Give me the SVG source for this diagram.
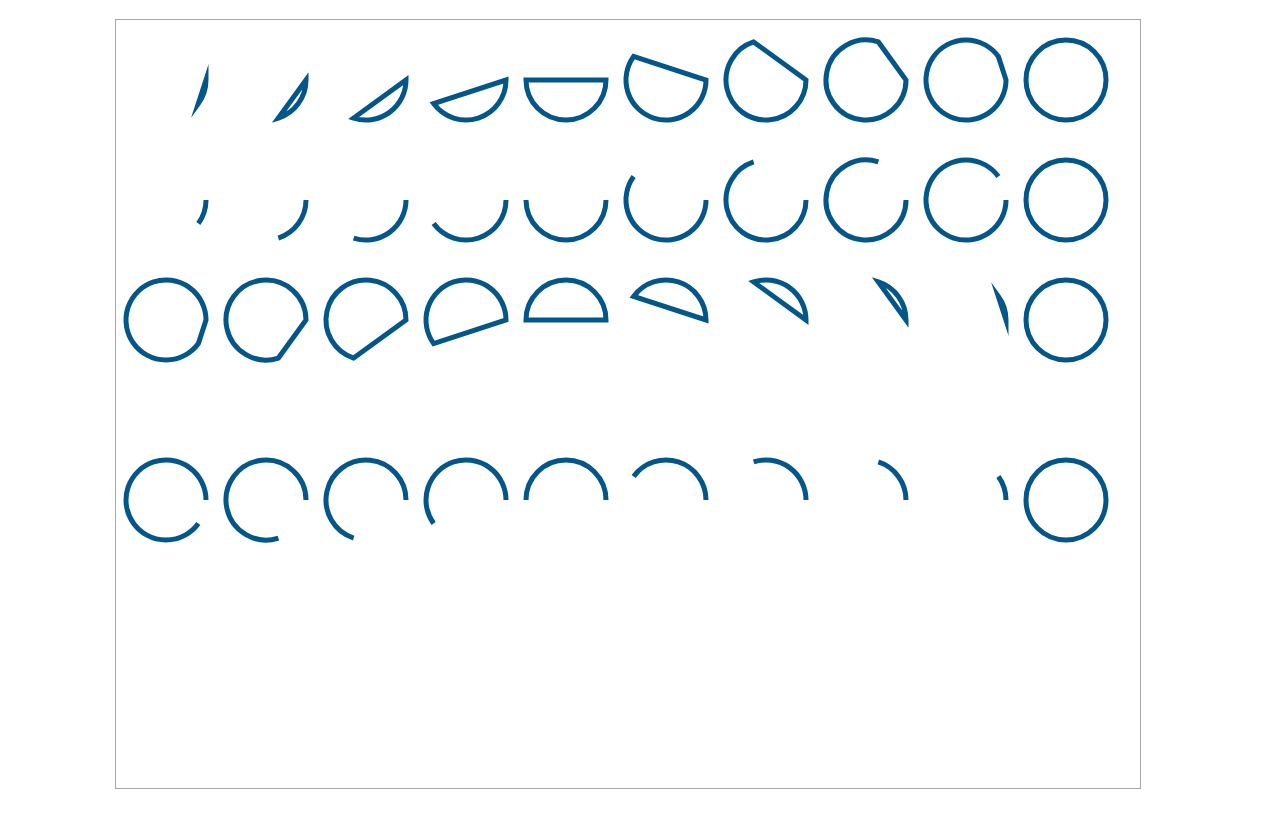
<svg xmlns="http://www.w3.org/2000/svg" width="1282" height="835" viewBox="0 0 1282 835">
<style>
.a{fill:none;stroke:#02568a;stroke-width:5;stroke-miterlimit:10}
.frame{fill:none;stroke:#aaaaaa;stroke-width:1}
</style>
<rect x="0" y="0" width="1282" height="835" fill="#ffffff"/>
<rect class="frame" x="115.5" y="19.5" width="1025" height="769"/>
<g id="row1">
<g id="r1c1" transform="translate(166,80)"><path class="a" d="M40,0A40,40 0 0 1 32.361,23.511Z"/></g>
<g id="r1c2" transform="translate(266,80)"><path class="a" d="M40,0A40,40 0 0 1 12.361,38.042Z"/></g>
<g id="r1c3" transform="translate(366,80)"><path class="a" d="M40,0A40,40 0 0 1 -12.361,38.042Z"/></g>
<g id="r1c4" transform="translate(466,80)"><path class="a" d="M40,0A40,40 0 0 1 -32.361,23.511Z"/></g>
<g id="r1c5" transform="translate(566,80)"><path class="a" d="M40,0A40,40 0 0 1 -40,0Z"/></g>
<g id="r1c6" transform="translate(666,80)"><path class="a" d="M40,0A40,40 0 1 1 -32.361,-23.511Z"/></g>
<g id="r1c7" transform="translate(766,80)"><path class="a" d="M40,0A40,40 0 1 1 -12.361,-38.042Z"/></g>
<g id="r1c8" transform="translate(866,80)"><path class="a" d="M40,0A40,40 0 1 1 12.361,-38.042Z"/></g>
<g id="r1c9" transform="translate(966,80)"><path class="a" d="M40,0A40,40 0 1 1 32.361,-23.511Z"/></g>
<g id="r1c10" transform="translate(1066,80)"><circle class="a" r="40"/></g>
</g>
<g id="row2">
<g id="r2c1" transform="translate(166,200)"><path class="a" d="M40,0A40,40 0 0 1 32.361,23.511"/></g>
<g id="r2c2" transform="translate(266,200)"><path class="a" d="M40,0A40,40 0 0 1 12.361,38.042"/></g>
<g id="r2c3" transform="translate(366,200)"><path class="a" d="M40,0A40,40 0 0 1 -12.361,38.042"/></g>
<g id="r2c4" transform="translate(466,200)"><path class="a" d="M40,0A40,40 0 0 1 -32.361,23.511"/></g>
<g id="r2c5" transform="translate(566,200)"><path class="a" d="M40,0A40,40 0 0 1 -40,0"/></g>
<g id="r2c6" transform="translate(666,200)"><path class="a" d="M40,0A40,40 0 1 1 -32.361,-23.511"/></g>
<g id="r2c7" transform="translate(766,200)"><path class="a" d="M40,0A40,40 0 1 1 -12.361,-38.042"/></g>
<g id="r2c8" transform="translate(866,200)"><path class="a" d="M40,0A40,40 0 1 1 12.361,-38.042"/></g>
<g id="r2c9" transform="translate(966,200)"><path class="a" d="M40,0A40,40 0 1 1 32.361,-23.511"/></g>
<g id="r2c10" transform="translate(1066,200)"><circle class="a" r="40"/></g>
</g>
<g id="row3">
<g id="r3c1" transform="translate(166,320)"><path class="a" d="M32.361,23.511A40,40 0 1 1 40,0Z"/></g>
<g id="r3c2" transform="translate(266,320)"><path class="a" d="M12.361,38.042A40,40 0 1 1 40,0Z"/></g>
<g id="r3c3" transform="translate(366,320)"><path class="a" d="M-12.361,38.042A40,40 0 1 1 40,0Z"/></g>
<g id="r3c4" transform="translate(466,320)"><path class="a" d="M-32.361,23.511A40,40 0 1 1 40,0Z"/></g>
<g id="r3c5" transform="translate(566,320)"><path class="a" d="M-40,0A40,40 0 0 1 40,0Z"/></g>
<g id="r3c6" transform="translate(666,320)"><path class="a" d="M-32.361,-23.511A40,40 0 0 1 40,0Z"/></g>
<g id="r3c7" transform="translate(766,320)"><path class="a" d="M-12.361,-38.042A40,40 0 0 1 40,0Z"/></g>
<g id="r3c8" transform="translate(866,320)"><path class="a" d="M12.361,-38.042A40,40 0 0 1 40,0Z"/></g>
<g id="r3c9" transform="translate(966,320)"><path class="a" d="M32.361,-23.511A40,40 0 0 1 40,0Z"/></g>
<g id="r3c10" transform="translate(1066,320)"><circle class="a" r="40"/></g>
</g>
<g id="row4">
<g id="r4c1" transform="translate(166,500)"><path class="a" d="M32.361,23.511A40,40 0 1 1 40,0"/></g>
<g id="r4c2" transform="translate(266,500)"><path class="a" d="M12.361,38.042A40,40 0 1 1 40,0"/></g>
<g id="r4c3" transform="translate(366,500)"><path class="a" d="M-12.361,38.042A40,40 0 1 1 40,0"/></g>
<g id="r4c4" transform="translate(466,500)"><path class="a" d="M-32.361,23.511A40,40 0 1 1 40,0"/></g>
<g id="r4c5" transform="translate(566,500)"><path class="a" d="M-40,0A40,40 0 0 1 40,0"/></g>
<g id="r4c6" transform="translate(666,500)"><path class="a" d="M-32.361,-23.511A40,40 0 0 1 40,0"/></g>
<g id="r4c7" transform="translate(766,500)"><path class="a" d="M-12.361,-38.042A40,40 0 0 1 40,0"/></g>
<g id="r4c8" transform="translate(866,500)"><path class="a" d="M12.361,-38.042A40,40 0 0 1 40,0"/></g>
<g id="r4c9" transform="translate(966,500)"><path class="a" d="M32.361,-23.511A40,40 0 0 1 40,0"/></g>
<g id="r4c10" transform="translate(1066,500)"><circle class="a" r="40"/></g>
</g>
</svg>
